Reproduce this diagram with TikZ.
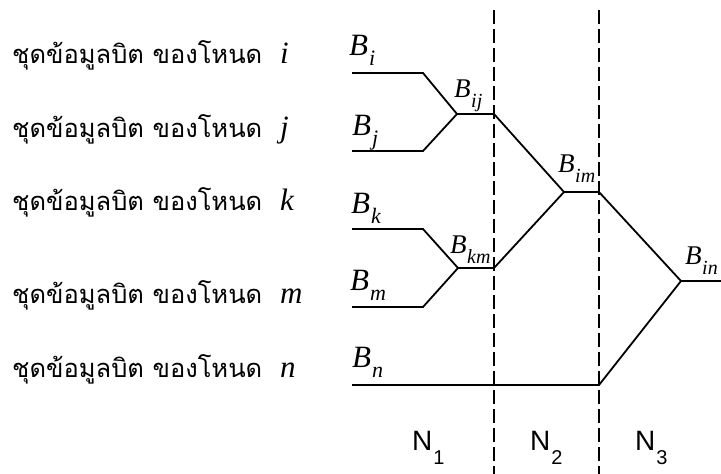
\documentclass[tikz,border=0pt]{standalone}
\usepackage{fontspec}
\setmainfont{Liberation Serif}
\newfontfamily\thaifont[Script=Thai]{Loma}
\newfontfamily\nfont{Liberation Sans}
\usetikzlibrary{positioning}
\newcommand{\bvar}[1]{\textit{B}\kern1pt\raisebox{-10pt}{\fontsize{22}{22}\selectfont\textit{#1}}}
\newcommand{\bjoin}[1]{\textit{B}\kern0.5pt\raisebox{-10pt}{\fontsize{20}{20}\selectfont\textit{#1}}}
\newcommand{\nvar}[1]{{\nfont N}\kern1pt\raisebox{-14pt}{\fontsize{20}{20}\selectfont\nfont #1}}
\newcommand{\rowtext}[1]{\makebox[268pt][l]{\thaifont\fontsize{25.5}{25.5}\selectfont ชุดข้อมูลบิต ของโหนด}\textit{#1}}

\begin{document}
\begin{tikzpicture}[x=1pt,y=-1pt,
  wire/.style={line width=1.8pt},
  sep/.style={line width=1.4pt,dash pattern=on 14pt off 5pt},
  lbl/.style={anchor=base west,inner sep=0pt,font=\fontsize{31}{31}\selectfont},
  jlbl/.style={anchor=base west,inner sep=0pt,font=\fontsize{27}{27}\selectfont},
  row/.style={anchor=base west,inner sep=0pt,font=\fontsize{31}{31}\selectfont},
  stage/.style={anchor=base west,inner sep=0pt,font=\fontsize{28}{28}\selectfont}]
\useasboundingbox (0,0) rectangle (721,474);
\node[row] (ri) at (12,63) {\rowtext{i}};
\node[row] (rj) at (12,137) {\rowtext{j}};
\node[row] (rk) at (12,210) {\rowtext{k}};
\node[row] (rm) at (12,303) {\rowtext{m}};
\node[row] (rn) at (12,377) {\rowtext{n}};
\coordinate (sep1a) at (494,10); \coordinate (sep1b) at (494,474);
\coordinate (sep2a) at (599,10); \coordinate (sep2b) at (599,474);
\draw[sep] (sep1a) -- (sep1b);
\draw[sep] (sep2a) -- (sep2b);
\coordinate (in-i) at (352,73); \coordinate (kn-i) at (423,73);
\coordinate (in-j) at (352,151); \coordinate (kn-j) at (423,151);
\coordinate (in-k) at (352,229); \coordinate (kn-k) at (423,229);
\coordinate (in-m) at (352,307); \coordinate (kn-m) at (423,307);
\coordinate (in-n) at (352,385); \coordinate (on) at (599,385);
\coordinate (jij) at (457,114); \coordinate (oij) at (494,114);
\coordinate (jkm) at (458,268); \coordinate (okm) at (494,268);
\coordinate (jim) at (564,192); \coordinate (oim) at (599,192);
\coordinate (jin) at (681,281); \coordinate (out) at (721,281);
\draw[wire] (in-i) -- (kn-i) -- (jij) -- (oij) -- (jim) -- (oim) -- (jin) -- (out);
\draw[wire] (in-j) -- (kn-j) -- (jij);
\draw[wire] (in-k) -- (kn-k) -- (jkm) -- (okm) -- (jim);
\draw[wire] (in-m) -- (kn-m) -- (jkm);
\draw[wire] (in-n) -- (on) -- (jin);
\node[lbl] (bi) at (349,55) {\bvar{i}};
\node[lbl] (bj) at (352,135) {\bvar{j}};
\node[lbl] (bk) at (351,213) {\bvar{k}};
\node[lbl] (bm) at (350,290) {\bvar{m}};
\node[lbl] (bn) at (352,367) {\bvar{n}};
\node[jlbl] (bij) at (454,97) {\bjoin{ij}};
\node[jlbl] (bkm) at (450,253) {\bjoin{km}};
\node[jlbl] (bim) at (558,172) {\bjoin{im}};
\node[jlbl] (bin) at (685,264) {\bjoin{in}};
\node[stage] (n1) at (412,450) {\nvar{1}};
\node[stage] (n2) at (530,450) {\nvar{2}};
\node[stage] (n3) at (635,450) {\nvar{3}};
\end{tikzpicture}
\end{document}
